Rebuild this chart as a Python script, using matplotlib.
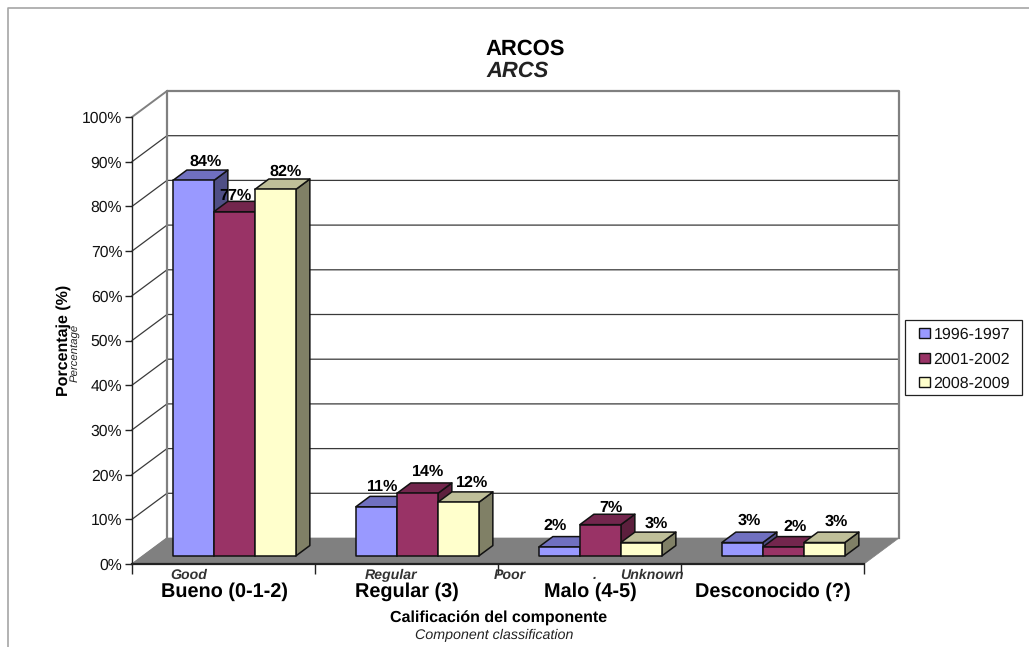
import matplotlib
matplotlib.use("Agg")
import matplotlib.pyplot as plt
from matplotlib.patches import Polygon, Rectangle
from matplotlib.lines import Line2D

plt.rcParams['font.family'] = ['Liberation Sans', 'DejaVu Sans']
plt.rcParams['text.hinting'] = 'no_hinting'

categories = ['Bueno (0-1-2)', 'Regular (3)', 'Malo (4-5)', 'Desconocido (?)']
categories_en = ['Good', 'Regular', 'Poor', 'Unknown']
series_names = ['1996-1997', '2001-2002', '2008-2009']
values_1996 = [84, 11, 2, 3]
values_2001 = [77, 14, 7, 2]
values_2008 = [82, 12, 3, 3]
y_ticks = list(range(0, 101, 10))

front_colors = ['#9999FF', '#993366', '#FFFFCC']
top_colors = ['#7070C0', '#73264D', '#BFBF99']
side_colors = ['#4F4F85', '#5C1F3D', '#808066']

# Nudge of each value label, per category then per series, in pixels
label_nudge_x = [[-2, -13, -4], [-8, -3, 0], [-18, -3, 1], [-7, -2, -2]]
label_nudge_y = [[8, 6, 7], [10, 11, 9], [11, 7, 8], [11, 10, 10]]

W, H = 1029, 647
fig = plt.figure(figsize=(W / 100, H / 100), dpi=100, facecolor='white')

# Axes span the front edge of the floor: one unit per category, y in percent.
left, right, bottom, top = 132, 864, 564, 117
ax = fig.add_axes([left / W, 1 - bottom / H, (right - left) / W, (bottom - top) / H])
ax.set_xlim(0, 4)
ax.set_ylim(0, 100)
ax.patch.set_visible(False)
for name in ('top', 'right'):
    ax.spines[name].set_visible(False)
for name in ('left', 'bottom'):
    ax.spines[name].set_color('#222222')
ax.spines['left'].set_linewidth(1.0)
ax.spines['bottom'].set_linewidth(1.6)
ax.spines['bottom'].set_zorder(6)

# Oblique projection of the chart depth (0 = front, 1 = back wall).
DX = 35 / 183
DY = 26 / 4.47


def proj(x, y, d):
    return (x + d * DX, y + d * DY)


def poly(points, **kw):
    p = Polygon(points, closed=True, clip_on=False, **kw)
    ax.add_patch(p)


# Floor
poly([proj(0, 0, 0), proj(4, 0, 0), proj(4, 0, 1), proj(0, 0, 1)],
     facecolor='#808080', edgecolor='#808080', lw=0.5, zorder=1)

# Gridlines across the side and back walls
for t in y_ticks[1:-1]:
    ax.plot(*zip(proj(0, t, 0), proj(0, t, 1), proj(4, t, 1)),
            color='#3A3A3A', lw=0.9, clip_on=False, zorder=1)
ax.plot(*zip(proj(0, 100, 0), proj(0, 100, 1)), color='#808080', lw=1.4, clip_on=False, zorder=1)
ax.plot(*zip(proj(0, 0, 0), proj(0, 0, 1)), color='#808080', lw=1.0, clip_on=False, zorder=1)
ax.plot(*zip(proj(0, 0, 1), proj(0, 100, 1), proj(4, 100, 1), proj(4, 0, 1)),
        color='#808080', lw=1.6, clip_on=False, zorder=1.5)

# Bars, left to right so nearer faces overlap the previous bar's side
BAR_W = 41 / 183
D0, D1 = 0.31, 0.71
GROUP_START = 0.5 - 1.5 * BAR_W
series = [values_1996, values_2001, values_2008]
z = 2.0
for c in range(len(categories)):
    for s, vals in enumerate(series):
        v = vals[c]
        x0 = c + GROUP_START + s * BAR_W
        x1 = x0 + BAR_W
        edge = dict(edgecolor='#111111', lw=1.1, joinstyle='round')
        poly([proj(x1, 0, D0), proj(x1, 0, D1), proj(x1, v, D1), proj(x1, v, D0)],
             facecolor=side_colors[s], zorder=z, **edge)
        poly([proj(x0, v, D0), proj(x1, v, D0), proj(x1, v, D1), proj(x0, v, D1)],
             facecolor=top_colors[s], zorder=z, **edge)
        poly([proj(x0, 0, D0), proj(x1, 0, D0), proj(x1, v, D0), proj(x0, v, D0)],
             facecolor=front_colors[s], zorder=z + 0.1, **edge)
        z += 0.2
        lx, ly = proj((x0 + x1) / 2, v, D1)
        ax.annotate(f'{v}%', (lx, ly), xytext=(label_nudge_x[c][s], label_nudge_y[c][s]),
                    textcoords='offset pixels', ha='center', va='center',
                    fontsize=11.6, fontweight='bold', color='black',
                    annotation_clip=False, zorder=20)

# Axis ticks and labels
ax.set_yticks(y_ticks)
ax.set_yticklabels([f'{t}%' for t in y_ticks], fontsize=11.3, color='#111111')
ax.set_xticks(range(5))
ax.set_xticklabels([])
ax.tick_params(axis='y', length=5, width=1, color='#222222', pad=2)
ax.tick_params(axis='x', length=7, width=1, color='#222222')

# Bold category names with their English glosses above them
for c, name in enumerate(categories):
    fig.text((224 + 183 * c) / W, 1 - 592 / H, name, ha='center', va='center',
             fontsize=14.3, fontweight='bold', color='black')
for x, gloss in zip([188.5, 391.5, 510, 651.5], categories_en):
    fig.text(x / W, 1 - 575.5 / H, gloss, ha='center', va='center',
             fontsize=10.2, fontstyle='italic', fontweight='bold', color='#333333')
fig.text(595 / W, 1 - 575.5 / H, '.', ha='center', va='center',
         fontsize=10.2, fontstyle='italic', fontweight='bold', color='#333333')

# Titles
fig.text(525 / W, 1 - 49 / H, 'ARCOS', ha='center', va='center',
         fontsize=15.8, fontweight='bold', color='black')
fig.text(517.5 / W, 1 - 71 / H, 'ARCS', ha='center', va='center',
         fontsize=15.8, fontweight='bold', fontstyle='italic', color='#222222')
fig.text(63.5 / W, 1 - 340 / H, 'Porcentaje (%)', rotation=90, ha='center', va='center',
         fontsize=11.5, fontweight='bold', color='black')
fig.text(74.5 / W, 1 - 353 / H, 'Percentage', rotation=90, ha='center', va='center',
         fontsize=8.2, fontstyle='italic', color='#222222')
fig.text(499 / W, 1 - 618 / H, 'Calificación del componente', ha='center', va='center',
         fontsize=11.5, fontweight='bold', color='black')
fig.text(494 / W, 1 - 635 / H, 'Component classification', ha='center', va='center',
         fontsize=10.3, fontstyle='italic', color='#222222')

# Legend box with swatches and year ranges
fig.add_artist(Rectangle((905 / W, 1 - 395 / H), 117 / W, 75 / H, transform=fig.transFigure,
                         facecolor='white', edgecolor='#222222', lw=0.9))
for i, (name, col) in enumerate(zip(series_names, front_colors)):
    yc = 333 + 24.5 * i
    fig.add_artist(Rectangle((919 / W, 1 - (yc + 5) / H), 10.5 / W, 10 / H,
                             transform=fig.transFigure, facecolor=col,
                             edgecolor='#111111', lw=1.0))
    fig.text(933.5 / W, 1 - (yc + 2) / H, name, ha='left', va='center',
             fontsize=11.5, color='#111111')

# Outer chart frame, open on the right and bottom
fig.add_artist(Line2D([8 / W, 8 / W, 1], [0, 1 - 8 / H, 1 - 8 / H],
                      color='#A6A6A6', lw=1.2))

fig.savefig('out.png', dpi=100, facecolor='white')
